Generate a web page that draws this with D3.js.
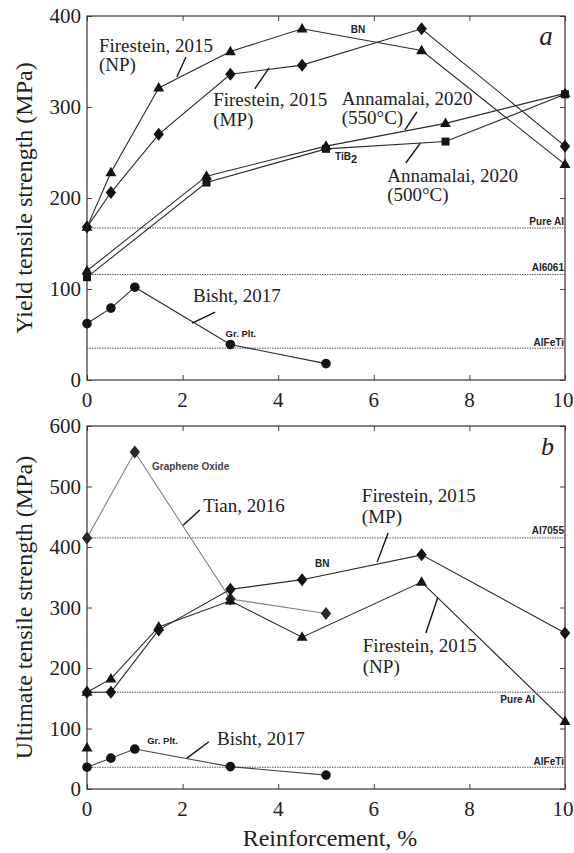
<!DOCTYPE html>
<html><head><meta charset="utf-8">
<script src="https://cdn.jsdelivr.net/npm/d3@7"></script>
<style>
body{margin:0;background:#fff;}
svg{display:block;}
</style></head>
<body><svg id="c" width="574" height="853"></svg>
<script>
// ---------- DATA ----------
const xTicks = [0, 2, 4, 6, 8, 10];
const yTicksA = [0, 100, 200, 300, 400];
const yTicksB = [0, 100, 200, 300, 400, 500, 600];

// Panel a: yield strength
const fireNP_A_x = [0, 0.5, 1.5, 3, 4.5, 7, 10];
const fireNP_A_y = [168, 228, 321, 361, 386, 362, 237];
const fireMP_A_x = [0, 0.5, 1.5, 3, 4.5, 7, 10];
const fireMP_A_y = [168, 206, 270, 336, 346, 386, 257];
const anna550_x = [0, 2.5, 5, 7.5, 10];
const anna550_y = [120, 224, 257, 282, 315];
const anna500_x = [0, 2.5, 5, 7.5, 10];
const anna500_y = [113, 217, 254, 262, 314];
const bishtA_x = [0, 0.5, 1, 3, 5];
const bishtA_y = [62, 79, 102, 39, 18];
const refA_names = ["Pure Al", "Al6061", "AlFeTi"];
const refA_vals = [167, 116, 35];

// Panel b: ultimate strength
const tian_x = [0, 1, 3, 5];
const tian_y = [415, 557, 314, 290];
const fireMP_B_x = [0, 0.5, 1.5, 3, 4.5, 7, 10];
const fireMP_B_y = [160, 160, 263, 330, 346, 387, 258];
const fireNP_B_x = [0, 0.5, 1.5, 3, 4.5, 7, 10];
const fireNP_B_y = [160, 182, 268, 311, 251, 342, 112];
const bishtB_x = [0, 0.5, 1, 3, 5];
const bishtB_y = [36, 51, 66, 37, 23];
const loneTri_x = [0];
const loneTri_y = [68];
const refB_names = ["Al7055", "Pure Al", "AlFeTi"];
const refB_vals = [415, 160, 36];

// ---------- LAYOUT ----------
const SERIF = "'Liberation Serif', 'Times New Roman', serif";
const SANS = "'Liberation Sans', Arial, sans-serif";
const svg = d3.select("#c");
svg.append("rect").attr("width",574).attr("height",853).attr("fill","#fff");
const L = 87, R = 565;
const x = d3.scaleLinear().domain([0,10]).range([L,R]);
const yA = d3.scaleLinear().domain([0,400]).range([380,16]);
const yB = d3.scaleLinear().domain([0,600]).range([789,426]);

const LINE = "#2a2a2a", MARK = "#141414";

function frame(y, yTicks){
  const g = svg.append("g");
  const [y0,y1] = y.range();
  const tl = 5;
  g.append("g").attr("transform",`translate(0,${y0})`)
    .call(d3.axisBottom(x).tickValues(xTicks).tickSize(-tl).tickFormat(""))
    .call(a=>a.select(".domain").remove());
  g.append("g").attr("transform",`translate(0,${y1})`)
    .call(d3.axisTop(x).tickValues(xTicks).tickSize(-tl).tickFormat(""))
    .call(a=>a.select(".domain").remove());
  g.append("g").attr("transform",`translate(${L},0)`)
    .call(d3.axisLeft(y).tickValues(yTicks).tickSize(-tl).tickFormat(""))
    .call(a=>a.select(".domain").remove());
  g.append("g").attr("transform",`translate(${R},0)`)
    .call(d3.axisRight(y).tickValues(yTicks).tickSize(-tl).tickFormat(""))
    .call(a=>a.select(".domain").remove());
  g.selectAll(".tick line").attr("stroke","#444").attr("stroke-width",1);
  g.selectAll(".tick text").remove();
  g.append("rect").attr("x",L).attr("y",y1).attr("width",R-L).attr("height",y0-y1)
    .attr("fill","none").attr("stroke","#333").attr("stroke-width",1.2);
  g.selectAll(".xl").data(xTicks).enter().append("text")
    .attr("font-family",SERIF)
    .attr("x",d=>d===10 ? x(d)-2 : x(d)).attr("y",y0+27).attr("text-anchor","middle")
    .attr("font-size",21).attr("fill","#222").text(d=>d);
  g.selectAll(".yl").data(yTicks).enter().append("text")
    .attr("font-family",SERIF)
    .attr("x",L-6).attr("y",d=>y(d)).attr("dy","0.35em").attr("text-anchor","end")
    .attr("font-size",21).attr("fill","#222").text(d=>d);
}

function refLines(y, names, vals, labelDy, labelRight){
  const g = svg.append("g");
  vals.forEach((v,i)=>{
    g.append("line").attr("x1",L).attr("x2",R).attr("y1",y(v)).attr("y2",y(v))
      .attr("stroke","#555").attr("stroke-width",1).attr("stroke-dasharray","1.5,1");
    g.append("text").attr("font-family",SANS).attr("font-weight","bold").attr("font-size",10).attr("fill","#222")
      .attr("x",labelRight[i]).attr("y",y(v)+labelDy[i]).attr("text-anchor","end").text(names[i]);
  });
}

const triangle = d3.symbol().type(d3.symbolTriangle).size(52);
function diamondPath(){ return "M0,-6.5L5.2,0L0,6.5L-5.2,0Z"; }

function series(y, xs, ys, shape, lineColor, markColor){
  const pts = xs.map((d,i)=>[d, ys[i]]);
  if (pts.length>1) svg.append("path").datum(pts)
    .attr("d", d3.line().x(d=>x(d[0])).y(d=>y(d[1])))
    .attr("fill","none").attr("stroke",lineColor).attr("stroke-width",1.1);
  const g = svg.append("g");
  pts.forEach(p=>{
    const cx = x(p[0]), cy = y(p[1]);
    if (shape==="tri") g.append("path").attr("d",triangle()).attr("transform",`translate(${cx},${cy+0.5})`).attr("fill",markColor);
    else if (shape==="dia") g.append("path").attr("d",diamondPath()).attr("transform",`translate(${cx},${cy})`).attr("fill",markColor);
    else if (shape==="circ") g.append("circle").attr("cx",cx).attr("cy",cy).attr("r",4.8).attr("fill",markColor);
    else if (shape==="sq") g.append("rect").attr("x",cx-4).attr("y",cy-4).attr("width",8).attr("height",8).attr("fill",markColor);
  });
}

function leader(y, p0, p1){
  svg.append("line").attr("x1",x(p0[0])).attr("y1",y(p0[1])).attr("x2",x(p1[0])).attr("y2",y(p1[1]))
    .attr("stroke","#111").attr("stroke-width",1.4);
}
function label(y, xv, yv, lines, size, font, extra){
  extra = extra || {};
  const t = svg.append("text").attr("font-family", font===SANS?SANS:SERIF)
    .attr("font-size",size).attr("fill", extra.fill||"#222")
    .attr("x",x(xv)).attr("y",y(yv));
  if (font===SANS) t.attr("font-weight","bold");
  if (extra.italic) t.attr("font-style","italic");
  lines.forEach((ln,i)=>{
    t.append("tspan").attr("x",x(xv)).attr("dy", i===0?0:(extra.lh||20)).text(ln);
  });
  return t;
}

// ---------- PANEL A ----------
frame(yA, yTicksA);
refLines(yA, refA_names, refA_vals, [-3,-3,-2], [564,564,564]);
series(yA, anna550_x, anna550_y, "tri", LINE, MARK);
series(yA, anna500_x, anna500_y, "sq", LINE, MARK);
series(yA, fireMP_A_x, fireMP_A_y, "dia", LINE, MARK);
series(yA, fireNP_A_x, fireNP_A_y, "tri", LINE, MARK);
series(yA, bishtA_x, bishtA_y, "circ", LINE, MARK);

label(yA, 0.25, 360, ["Firestein, 2015","(NP)"], 19, SERIF, {lh:19});
leader(yA, [2.07,355], [1.88,333]);
label(yA, 2.64, 301, ["Firestein, 2015","(MP)"], 19, SERIF, {lh:20});
leader(yA, [3.81,343], [3.51,320]);
label(yA, 5.33, 302, ["Annamalai, 2020","(550°C)"], 19, SERIF, {lh:19});
leader(yA, [6.90,294.5], [6.65,274.7]);
label(yA, 6.28, 217.6, ["Annamalai, 2020","(500°C)"], 19, SERIF, {lh:19});
leader(yA, [6.97,260], [6.67,238.5]);
label(yA, 5.52, 381, ["BN"], 10, SANS);
{
  const t = svg.append("text").attr("font-family",SANS).attr("font-weight","bold").attr("font-size",10).attr("fill","#222")
    .attr("x",x(5.19)).attr("y",yA(242));
  t.append("tspan").text("TiB");
  t.append("tspan").attr("font-size",11).attr("dy",3).text("2");
}
label(yA, 9.46, 368, ["a"], 27, SERIF, {italic:true});
label(yA, 2.22, 86, ["Bisht, 2017"], 19, SERIF);
leader(yA, [2.68,74.7], [2.2,62.6]);
label(yA, 2.9, 47, ["Gr. Plt."], 9.5, SANS);

// ---------- PANEL B ----------
frame(yB, yTicksB);
refLines(yB, refB_names, refB_vals, [-4,11,-2], [564,535,564]);
series(yB, tian_x, tian_y, "dia", "#808080", "#2a2a2a");
series(yB, fireNP_B_x, fireNP_B_y, "tri", LINE, MARK);
series(yB, fireMP_B_x, fireMP_B_y, "dia", LINE, MARK);
series(yB, bishtB_x, bishtB_y, "circ", "#444", MARK);
series(yB, loneTri_x, loneTri_y, "tri", LINE, MARK);

label(yB, 1.36, 527, ["Graphene Oxide"], 10, SANS, {fill:"#444"});
label(yB, 2.43, 458, ["Tian, 2016"], 19, SERIF);
leader(yB, [2.36,461], [2.01,436]);
label(yB, 4.77, 367, ["BN"], 10, SANS);
label(yB, 5.75, 474, ["Firestein, 2015","(MP)"], 19, SERIF, {lh:21});
leader(yB, [6.30,423], [6.07,375]);
label(yB, 5.77, 226, ["Firestein, 2015","(NP)"], 19, SERIF, {lh:21});
leader(yB, [7.34,317], [7.09,258]);
label(yB, 9.5, 552, ["b"], 26, SERIF, {italic:true});
label(yB, 1.26, 74, ["Gr. Plt."], 9.5, SANS);
label(yB, 2.72, 73, ["Bisht, 2017"], 19, SERIF);
leader(yB, [2.55,78], [2.09,51]);

// ---------- AXIS TITLES ----------
svg.append("text").attr("font-family",SERIF).attr("font-size",24).attr("fill","#222")
  .attr("text-anchor","middle").attr("transform",`translate(32,${(16+380)/2}) rotate(-90)`)
  .text("Yield tensile strength (MPa)");
svg.append("text").attr("font-family",SERIF).attr("font-size",24).attr("fill","#222")
  .attr("text-anchor","middle").attr("transform",`translate(32,${(426+789)/2}) rotate(-90)`)
  .text("Ultimate tensile strength (MPa)");
svg.append("text").attr("font-family",SERIF).attr("font-size",24).attr("fill","#222")
  .attr("text-anchor","middle").attr("x",330).attr("y",846)
  .text("Reinforcement, %");
</script></body></html>
